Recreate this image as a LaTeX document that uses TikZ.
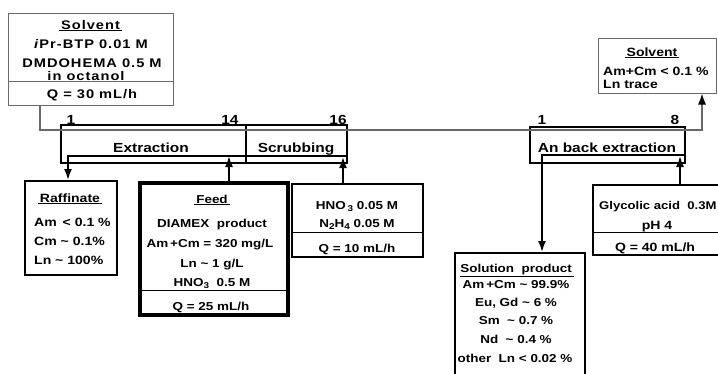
\documentclass[tikz,border=0pt]{standalone}
\usepackage{fontspec}
\setmainfont{Liberation Sans}[FakeStretch=1.17]
\newfontfamily\smf{Liberation Sans}[FakeStretch=1.17, LetterSpace=8]
\usetikzlibrary{arrows.meta}
\definecolor{solgray}{RGB}{105,105,105}
\newcommand\sbs[1]{\raisebox{-0.45ex}{\fontsize{8.5}{8.5}\selectfont #1}}
\tikzset{
  txt/.style={font=\fontsize{12}{13}\selectfont\bfseries, inner sep=0pt, anchor=base},
  txtl/.style={txt, anchor=base west},
  txtn/.style={txt, font=\fontsize{11.5}{13}\selectfont\bfseries},
  txtw/.style={txt, font=\smf\fontsize{12.5}{14}\selectfont\bfseries},
  big/.style={font=\fontsize{13.2}{15}\selectfont\bfseries, inner sep=0pt, anchor=base},
  thinbox/.style={draw=solgray, line width=1pt, inner sep=0pt},
  stagebox/.style={draw, line width=2pt, inner sep=0pt},
  databox/.style={draw, line width=2pt, inner sep=0pt},
  flow/.style={line width=1.8pt, -{Latex[length=11pt,width=8pt]}},
  solvline/.style={draw=solgray, line width=1.4pt, -{Latex[length=11pt,width=8pt,color=black]}},
  sepline/.style={line width=0.8pt}
}
\begin{document}
\begin{tikzpicture}[x=1pt,y=-1pt]
\useasboundingbox (0,0) rectangle (718,373);
\clip (0,0) rectangle (718,373);

% boxes
\node[thinbox, minimum width=165pt, minimum height=92pt] (lsolv) at (90.5,59) {};
\node[thinbox, minimum width=118pt, minimum height=55pt] (rsolv) at (657,65.5) {};
\node[stagebox, minimum width=185pt, minimum height=38pt] (extr) at (153.5,144) {};
\node[stagebox, minimum width=101pt, minimum height=38pt] (scrub) at (296.5,144) {};
\node[stagebox, minimum width=155pt, minimum height=36pt] (back) at (607.5,145) {};
\node[databox, minimum width=92pt, minimum height=94pt] (raff) at (71,228) {};
\node[databox, line width=3.5pt, minimum width=148pt, minimum height=132pt] (feed) at (214,249) {};
\node[databox, minimum width=131pt, minimum height=73pt] (scrsol) at (357.5,220.5) {};
\node[databox, minimum width=167pt, minimum height=70pt] (gly) at (676.5,220) {};
\node[databox, minimum width=130pt, minimum height=147pt] (sol) at (520,326.5) {};

% separators
\coordinate (s1) at (0,81);
\coordinate (s2) at (0,290);
\coordinate (s3) at (0,232);
\draw[sepline, draw=solgray] (lsolv.west |- s1) -- (lsolv.east |- s1);
\draw[sepline] (feed.west |- s2) -- (feed.east |- s2);
\draw[sepline] (scrsol.west |- s3) -- (scrsol.east |- s3);
\draw[sepline] (gly.west |- s3) -- (gly.east |- s3);

% solvent line
\coordinate (gA) at (40,130);
\coordinate (gB) at (702,130);
\draw[solvline] (lsolv.south -| gA) -- (gA) -- (gB) -- (rsolv.south -| gB);

% aqueous flows
\coordinate (aqR) at (347,156);
\coordinate (aqL) at (68,156);
\draw[flow] (aqR) -- (aqL) -- (raff.north -| aqL);
\coordinate (fx) at (229,156);
\draw[flow] (feed.north -| fx) -- (fx);
\coordinate (sx) at (343,157);
\draw[flow] (scrsol.north -| sx) -- (sx);
\coordinate (bR) at (685,155);
\coordinate (bL) at (542,155);
\draw[flow] (bR) -- (bL) -- (sol.north -| bL);
\coordinate (gx) at (680,156);
\draw[flow] (gly.north -| gx) -- (gx);

% left solvent text
\node[txtw] (ls1) at (90.5,29) {\underline{\,Solvent\,}};
\node[txtw] (ls2) at (91,48) {\textit{i}Pr-BTP 0.01 M};
\node[txtw] (ls3) at (92,67) {DMDOHEMA 0.5 M};
\node[txtw] (ls4) at (86,80) {in octanol};
\node[txtw] (ls5) at (92,98) {Q = 30 mL/h};

% stage numbers and labels
\node[big] (n1) at (71,124) {1};
\node[big] (n14) at (230,124) {14};
\node[big] (n16) at (338,124) {16};
\node[big] (nb1) at (542,124) {1};
\node[big] (nb8) at (675,124) {8};
\node[big] (lext) at (151,152) {Extraction};
\node[big] (lscr) at (296,152) {Scrubbing};
\node[big] (lback) at (607,152) {An back extraction};

% raffinate
\node[txt] (r1) at (70,202) {\underline{\,Raffinate\,}};
\node[txtl] (r2) at (34,226) {Am \,\textless\ 0.1 \%};
\node[txtl] (r3) at (34,245) {Cm \textasciitilde\ 0.1\%};
\node[txtl] (r4) at (34,264) {Ln \textasciitilde\ 100\%};

% feed
\node[txtn] (f1) at (212,203) {\underline{\,Feed\,}};
\node[txtn] (f2) at (212,227) {DIAMEX\ \ product};
\node[txtn] (f3) at (210,247) {Am\,+Cm = 320 mg/L};
\node[txtn] (f4) at (212,267) {Ln \textasciitilde\ 1 g/L};
\node[txtn] (f5) at (212,286) {HNO\sbs{3}\ \ 0.5 M};
\node[txtn] (f6) at (211,310) {Q = 25 mL/h};

% scrubbing solution
\node[txtn] (h1) at (357,209) {HNO\,\sbs{3} 0.05 M};
\node[txtn] (h2) at (357,227) {N\sbs{2}H\sbs{4} 0.05 M};
\node[txtn] (h3) at (357,252) {Q = 10 mL/h};

% glycolic
\node[txtl, font=\fontsize{11.2}{13}\selectfont\bfseries] (g1) at (599,209) {Glycolic acid\ \ 0.3M};
\node[txt] (g2) at (657,229) {pH 4};
\node[txt] (g3) at (655,251) {Q = 40 mL/h};

% solution product
\node[txtn] (p1) at (517,272) {\underline{Solution\ \ product\,}};
\node[txtn] (p2) at (516,288) {Am\,+Cm \textasciitilde\ 99.9\%};
\node[txtn] (p3) at (516,306) {Eu, Gd \textasciitilde\ 6 \%};
\node[txtn] (p4) at (516,324) {Sm \ \textasciitilde\ 0.7 \%};
\node[txtn] (p5) at (516,343) {Nd \ \textasciitilde\ 0.4 \%};
\node[txtn] (p6) at (515,362) {other\ \ Ln \textless\ 0.02 \%};

% right solvent
\node[txt] (rs1) at (652,56) {\underline{\,Solvent\,}};
\node[txtl] (rs2) at (603,75) {Am+Cm \textless\ 0.1 \%};
\node[txtl] (rs3) at (603,88) {Ln trace};
\end{tikzpicture}
\end{document}
